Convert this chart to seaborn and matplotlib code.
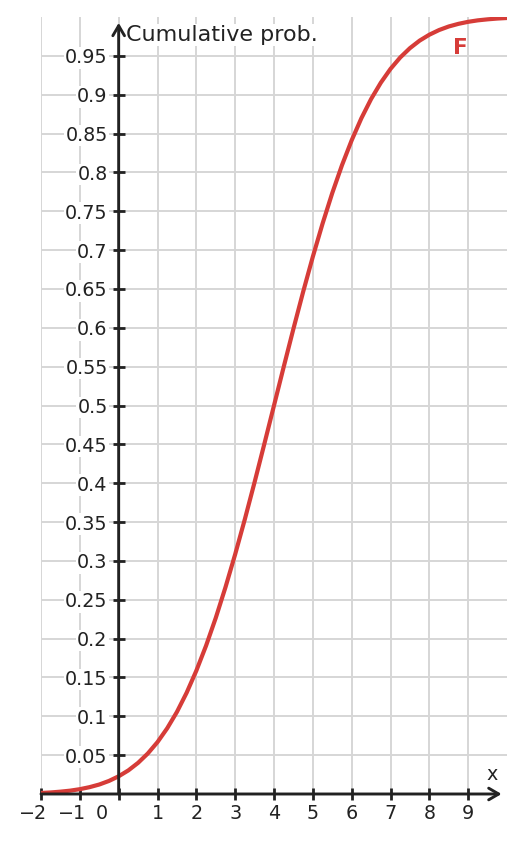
import numpy as np
import pandas as pd
import seaborn as sns
import matplotlib
matplotlib.use("Agg")
import matplotlib.pyplot as plt
from matplotlib.transforms import ScaledTranslation

# ---- data ----
x_vals = [-2.0, -1.75, -1.5, -1.25, -1.0, -0.75, -0.5, -0.25, 0.0, 0.25, 0.5, 0.75,
          1.0, 1.25, 1.5, 1.75, 2.0, 2.25, 2.5, 2.75, 3.0, 3.25, 3.5, 3.75,
          4.0, 4.25, 4.5, 4.75, 5.0, 5.25, 5.5, 5.75, 6.0, 6.25, 6.5, 6.75,
          7.0, 7.25, 7.5, 7.75, 8.0, 8.25, 8.5, 8.75, 9.0, 9.25, 9.5, 9.75, 10.0]
cum_prob = [0.0013, 0.0020, 0.0030, 0.0043, 0.0062, 0.0088, 0.0122, 0.0168, 0.0228,
            0.0304, 0.0401, 0.0521, 0.0668, 0.0846, 0.1056, 0.1303, 0.1587, 0.1908,
            0.2266, 0.2660, 0.3085, 0.3538, 0.4013, 0.4503, 0.5000, 0.5497, 0.5987,
            0.6462, 0.6915, 0.7340, 0.7734, 0.8092, 0.8413, 0.8697, 0.8944, 0.9154,
            0.9332, 0.9479, 0.9599, 0.9696, 0.9772, 0.9832, 0.9878, 0.9912, 0.9938,
            0.9957, 0.9970, 0.9980, 0.9987]
x_ticks = [-2, -1, 0, 1, 2, 3, 4, 5, 6, 7, 8, 9]
x_tick_labels = ["\u22122", "\u22121", "0", "1", "2", "3", "4", "5", "6", "7", "8", "9"]
y_ticks = [0.05, 0.1, 0.15, 0.2, 0.25, 0.3, 0.35, 0.4, 0.45, 0.5,
           0.55, 0.6, 0.65, 0.7, 0.75, 0.8, 0.85, 0.9, 0.95]
y_tick_labels = ["0.05", "0.1", "0.15", "0.2", "0.25", "0.3", "0.35", "0.4", "0.45", "0.5",
                 "0.55", "0.6", "0.65", "0.7", "0.75", "0.8", "0.85", "0.9", "0.95"]
curve_label = "F"
x_label = "x"
y_label = "Cumulative prob."

df = pd.DataFrame({"x": x_vals, "F": cum_prob})

sns.set_theme(style="white")
plt.rcParams["font.family"] = ["DejaVu Sans"]

AX = "#222222"
RED = "#d63c38"
GRID = "#d6d6d6"
FS = 13.8

fig = plt.figure(figsize=(5.26, 8.43), dpi=100)
ax = fig.add_axes([41 / 526, 49 / 843, 466 / 526, 777 / 843])

sns.lineplot(data=df, x="x", y="F", ax=ax, color=RED, linewidth=3.0, zorder=5)

ax.set_xlim(-2, 10)
ax.set_ylim(0, 1)
ax.set_xlabel("")
ax.set_ylabel("")

for s in ax.spines.values():
    s.set_visible(False)

ax.set_xticks(x_ticks)
ax.set_xticklabels(x_tick_labels)
ax.set_yticks(y_ticks)
ax.set_yticklabels(y_tick_labels)

ax.grid(True, color=GRID, linewidth=1.4, zorder=0)
ax.set_axisbelow(True)

ax.tick_params(axis="both", direction="inout", length=8, width=2, color=AX,
               labelsize=FS, labelcolor=AX)
ax.tick_params(axis="x", pad=3.5)
ax.tick_params(axis="y", pad=4)

ax.xaxis.set_ticks_position("bottom")
ax.yaxis.set_ticks_position("left")
ax.spines["left"].set_position(("data", 0))
ax.spines["bottom"].set_position(("data", 0))

for lab in ax.get_yticklabels():
    lab.set_bbox(dict(facecolor="white", edgecolor="none", pad=1.0))

offsets = {"\u22122": -8, "\u22121": -8, "0": -17}
for lab in ax.get_xticklabels():
    t = lab.get_text()
    if t in offsets:
        lab.set_transform(lab.get_transform() +
                          ScaledTranslation(offsets[t] / 100, 0, fig.dpi_scale_trans))

ax.annotate("", xy=(9.86, 0), xytext=(-2, 0),
            arrowprops=dict(arrowstyle="->,head_length=0.6,head_width=0.35",
                            color=AX, lw=2.1, shrinkA=0, shrinkB=0), zorder=6)
ax.annotate("", xy=(0, 0.9925), xytext=(0, 0),
            arrowprops=dict(arrowstyle="->,head_length=0.6,head_width=0.35",
                            color=AX, lw=2.1, shrinkA=0, shrinkB=0), zorder=6)

ax.text(0.2, 0.977, y_label, ha="left", va="center", fontsize=16, color=AX,
        bbox=dict(facecolor="white", edgecolor="none", pad=0.5), zorder=4)
ax.text(9.61, 0.0245, x_label, ha="center", va="center", fontsize=FS, color=AX,
        bbox=dict(facecolor="white", edgecolor="none", pad=0.5), zorder=4)
ax.text(8.81, 0.96, curve_label, ha="center", va="center", fontsize=15.5,
        color=RED, fontweight="bold", zorder=6)

fig.savefig("out.png", dpi=100, facecolor="white")
